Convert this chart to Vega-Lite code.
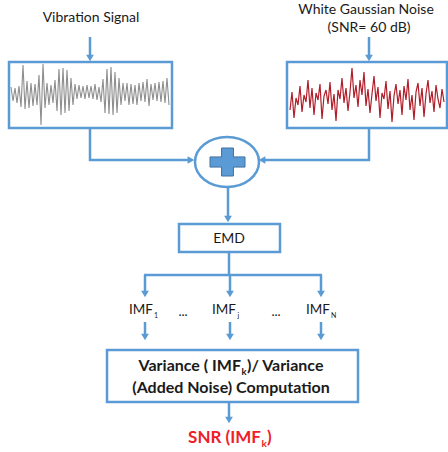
{
  "$schema": "https://vega.github.io/schema/vega-lite/v6.json",
  "width": 448,
  "height": 452,
  "padding": 0,
  "autosize": "none",
  "background": "white",
  "config": {"view": {"stroke": null}, "text": {"font": "Lato"}},
  "encoding": {
    "x": {"field": "x", "type": "quantitative", "scale": {"domain": [0, 448], "nice": false, "zero": false}, "axis": null},
    "y": {"field": "y", "type": "quantitative", "scale": {"domain": [0, 452], "nice": false, "zero": false, "reverse": true}, "axis": null}
  },
  "layer": [
    {
      "data": {"values": [
        {"x": 9, "x2": 172, "y": 62, "y2": 128},
        {"x": 287, "x2": 447, "y": 62, "y2": 128},
        {"x": 179, "x2": 280, "y": 224, "y2": 252},
        {"x": 107, "x2": 358, "y": 350, "y2": 402}
      ]},
      "mark": {"type": "rect", "fill": "white", "stroke": "#5B9BD5", "strokeWidth": 2.5},
      "encoding": {"x2": {"field": "x2"}, "y2": {"field": "y2"}}
    },
    {
      "data": {"values": [
        {"x": 11, "y": 87}, {"x": 13, "y": 101}, {"x": 15, "y": 88}, {"x": 17, "y": 103}, {"x": 19, "y": 86},
        {"x": 21, "y": 107}, {"x": 23, "y": 65}, {"x": 25, "y": 109}, {"x": 27, "y": 81}, {"x": 29, "y": 108},
        {"x": 31, "y": 83}, {"x": 33, "y": 106}, {"x": 35, "y": 84}, {"x": 37, "y": 105}, {"x": 39, "y": 75},
        {"x": 41, "y": 125}, {"x": 43, "y": 64}, {"x": 45, "y": 108}, {"x": 47, "y": 83}, {"x": 49, "y": 105},
        {"x": 51, "y": 85}, {"x": 53, "y": 103}, {"x": 55, "y": 80}, {"x": 57, "y": 111}, {"x": 59, "y": 69},
        {"x": 61, "y": 115}, {"x": 63, "y": 68}, {"x": 65, "y": 113}, {"x": 67, "y": 70}, {"x": 69, "y": 111},
        {"x": 71, "y": 78}, {"x": 73, "y": 105}, {"x": 75, "y": 84}, {"x": 77, "y": 99}, {"x": 79, "y": 85},
        {"x": 81, "y": 98}, {"x": 83, "y": 86}, {"x": 85, "y": 99}, {"x": 87, "y": 85}, {"x": 89, "y": 98},
        {"x": 91, "y": 86}, {"x": 93, "y": 99}, {"x": 95, "y": 84}, {"x": 97, "y": 100}, {"x": 99, "y": 87},
        {"x": 101, "y": 102}, {"x": 103, "y": 79}, {"x": 105, "y": 113}, {"x": 107, "y": 69}, {"x": 109, "y": 114},
        {"x": 111, "y": 67}, {"x": 113, "y": 115}, {"x": 115, "y": 72}, {"x": 117, "y": 113}, {"x": 119, "y": 78},
        {"x": 121, "y": 105}, {"x": 123, "y": 83}, {"x": 125, "y": 101}, {"x": 127, "y": 83}, {"x": 129, "y": 105},
        {"x": 131, "y": 84}, {"x": 133, "y": 104}, {"x": 135, "y": 85}, {"x": 137, "y": 105}, {"x": 139, "y": 83},
        {"x": 141, "y": 101}, {"x": 143, "y": 82}, {"x": 145, "y": 102}, {"x": 147, "y": 79}, {"x": 149, "y": 106},
        {"x": 151, "y": 84}, {"x": 153, "y": 100}, {"x": 155, "y": 83}, {"x": 157, "y": 101}, {"x": 159, "y": 82},
        {"x": 161, "y": 102}, {"x": 163, "y": 81}, {"x": 165, "y": 103}, {"x": 167, "y": 78}, {"x": 169, "y": 105}
      ]},
      "mark": {"type": "line", "color": "#7a7a7a", "strokeWidth": 1.1, "opacity": 0.85}
    },
    {
      "data": {"values": [
        {"x": 290, "y": 110}, {"x": 292, "y": 92}, {"x": 294, "y": 118}, {"x": 296, "y": 98}, {"x": 298, "y": 105},
        {"x": 300, "y": 86}, {"x": 302, "y": 112}, {"x": 304, "y": 95}, {"x": 306, "y": 102}, {"x": 308, "y": 80},
        {"x": 310, "y": 108}, {"x": 312, "y": 88}, {"x": 314, "y": 115}, {"x": 316, "y": 93}, {"x": 318, "y": 100},
        {"x": 320, "y": 84}, {"x": 322, "y": 119}, {"x": 324, "y": 96}, {"x": 326, "y": 90}, {"x": 328, "y": 104},
        {"x": 330, "y": 82}, {"x": 332, "y": 110}, {"x": 334, "y": 94}, {"x": 336, "y": 121}, {"x": 338, "y": 90},
        {"x": 340, "y": 99}, {"x": 342, "y": 78}, {"x": 344, "y": 103}, {"x": 346, "y": 88}, {"x": 348, "y": 111},
        {"x": 350, "y": 92}, {"x": 352, "y": 68}, {"x": 354, "y": 98}, {"x": 356, "y": 85}, {"x": 358, "y": 107},
        {"x": 360, "y": 80}, {"x": 362, "y": 95}, {"x": 364, "y": 72}, {"x": 366, "y": 106}, {"x": 368, "y": 89},
        {"x": 370, "y": 113}, {"x": 372, "y": 94}, {"x": 374, "y": 76}, {"x": 376, "y": 101}, {"x": 378, "y": 87},
        {"x": 380, "y": 118}, {"x": 382, "y": 93}, {"x": 384, "y": 99}, {"x": 386, "y": 81}, {"x": 388, "y": 109},
        {"x": 390, "y": 91}, {"x": 392, "y": 122}, {"x": 394, "y": 96}, {"x": 396, "y": 84}, {"x": 398, "y": 104},
        {"x": 400, "y": 90}, {"x": 402, "y": 115}, {"x": 404, "y": 86}, {"x": 406, "y": 100}, {"x": 408, "y": 79},
        {"x": 410, "y": 110}, {"x": 412, "y": 95}, {"x": 414, "y": 120}, {"x": 416, "y": 92}, {"x": 418, "y": 83},
        {"x": 420, "y": 106}, {"x": 422, "y": 88}, {"x": 424, "y": 117}, {"x": 426, "y": 94}, {"x": 428, "y": 80},
        {"x": 430, "y": 103}, {"x": 432, "y": 91}, {"x": 434, "y": 112}, {"x": 436, "y": 85}, {"x": 438, "y": 99},
        {"x": 440, "y": 108}, {"x": 442, "y": 89}, {"x": 444, "y": 102}
      ]},
      "mark": {"type": "line", "color": "#B01E2A", "strokeWidth": 1.2}
    },
    {
      "data": {"values": [
        {"x": 90, "y": 37, "x2": 90, "y2": 56},
        {"x": 369, "y": 37, "x2": 369, "y2": 56},
        {"x": 90, "y": 128, "x2": 90, "y2": 161},
        {"x": 89, "y": 160, "x2": 189, "y2": 160},
        {"x": 369, "y": 128, "x2": 369, "y2": 161},
        {"x": 370, "y": 160, "x2": 264, "y2": 160},
        {"x": 228, "y": 187, "x2": 228, "y2": 216},
        {"x": 229, "y": 252, "x2": 229, "y2": 275},
        {"x": 144, "y": 275, "x2": 322, "y2": 275},
        {"x": 145, "y": 275, "x2": 145, "y2": 291},
        {"x": 230, "y": 275, "x2": 230, "y2": 291},
        {"x": 321, "y": 275, "x2": 321, "y2": 291},
        {"x": 145, "y": 322, "x2": 145, "y2": 334},
        {"x": 230, "y": 322, "x2": 230, "y2": 334},
        {"x": 321, "y": 322, "x2": 321, "y2": 334},
        {"x": 229, "y": 402, "x2": 229, "y2": 417}
      ]},
      "mark": {"type": "rule", "color": "#5B9BD5", "strokeWidth": 2.5},
      "encoding": {"x2": {"field": "x2"}, "y2": {"field": "y2"}}
    },
    {
      "data": {"values": [
        {"x": 90, "y": 58}, {"x": 369, "y": 58}, {"x": 228, "y": 219},
        {"x": 145, "y": 294}, {"x": 230, "y": 294}, {"x": 321, "y": 294},
        {"x": 145, "y": 337}, {"x": 230, "y": 337}, {"x": 321, "y": 337},
        {"x": 229, "y": 420}
      ]},
      "mark": {"type": "point", "shape": "triangle-down", "filled": true, "color": "#5B9BD5", "size": 60, "opacity": 1}
    },
    {
      "data": {"values": [{"x": 191, "y": 160}]},
      "mark": {"type": "point", "shape": "triangle-right", "filled": true, "color": "#5B9BD5", "size": 60, "opacity": 1}
    },
    {
      "data": {"values": [{"x": 262, "y": 160}]},
      "mark": {"type": "point", "shape": "triangle-left", "filled": true, "color": "#5B9BD5", "size": 60, "opacity": 1}
    },
    {
      "data": {"values": [{"x": 227, "y": 162}]},
      "mark": {"type": "point", "shape": "M -1 0 A 1 0.78 0 1 1 1 0 A 1 0.78 0 1 1 -1 0 Z", "filled": false, "fill": "white", "fillOpacity": 1, "stroke": "#5B9BD5", "strokeWidth": 2.5, "size": 4096, "opacity": 1}
    },
    {
      "data": {"values": [{"x": 227.5, "y": 162}]},
      "mark": {"type": "point", "shape": "M -0.34 -0.8 L 0.34 -0.8 L 0.34 -0.29 L 1 -0.29 L 1 0.29 L 0.34 0.29 L 0.34 0.8 L -0.34 0.8 L -0.34 0.29 L -1 0.29 L -1 -0.29 L -0.34 -0.29 Z", "filled": true, "fill": "#5B9BD5", "stroke": "#41719C", "strokeWidth": 1, "size": 1225, "opacity": 1}
    },
    {
      "data": {"values": [
        {"x": 91, "y": 18, "t": "Vibration Signal"},
        {"x": 366, "y": 10, "t": "White Gaussian Noise"},
        {"x": 369, "y": 28, "t": "(SNR= 60 dB)"},
        {"x": 229, "y": 239, "t": "EMD"}
      ]},
      "mark": {"type": "text", "fontSize": 14, "color": "#1a1a1a", "align": "center", "baseline": "middle"},
      "encoding": {"text": {"field": "t"}}
    },
    {
      "data": {"values": [
        {"x": 153, "y": 310, "t": "IMF"},
        {"x": 236, "y": 310, "t": "IMF"},
        {"x": 330, "y": 310, "t": "IMF"}
      ]},
      "mark": {"type": "text", "fontSize": 13.5, "color": "#1a1a1a", "align": "right", "baseline": "middle"},
      "encoding": {"text": {"field": "t"}}
    },
    {
      "data": {"values": [
        {"x": 154, "y": 316, "t": "1"},
        {"x": 237.5, "y": 316, "t": "j"},
        {"x": 331, "y": 316, "t": "N"}
      ]},
      "mark": {"type": "text", "fontSize": 7, "color": "#1a1a1a", "align": "left", "baseline": "middle"},
      "encoding": {"text": {"field": "t"}}
    },
    {
      "data": {"values": [
        {"x": 183, "y": 312, "t": "..."},
        {"x": 276, "y": 312, "t": "..."}
      ]},
      "mark": {"type": "text", "fontSize": 13, "color": "#1a1a1a", "align": "center", "baseline": "middle"},
      "encoding": {"text": {"field": "t"}}
    },
    {
      "data": {"values": [{"x": 241, "y": 366, "t": "Variance ( IMF"}]},
      "mark": {"type": "text", "fontSize": 16, "fontWeight": "bold", "color": "#1a1a1a", "align": "right", "baseline": "middle"},
      "encoding": {"text": {"field": "t"}}
    },
    {
      "data": {"values": [{"x": 241.5, "y": 372, "t": "k"}]},
      "mark": {"type": "text", "fontSize": 9.5, "fontWeight": "bold", "color": "#1a1a1a", "align": "left", "baseline": "middle"},
      "encoding": {"text": {"field": "t"}}
    },
    {
      "data": {"values": [{"x": 247, "y": 366, "t": ")/ Variance"}]},
      "mark": {"type": "text", "fontSize": 16, "fontWeight": "bold", "color": "#1a1a1a", "align": "left", "baseline": "middle"},
      "encoding": {"text": {"field": "t"}}
    },
    {
      "data": {"values": [{"x": 231, "y": 388, "t": "(Added Noise) Computation"}]},
      "mark": {"type": "text", "fontSize": 16, "fontWeight": "bold", "color": "#1a1a1a", "align": "center", "baseline": "middle"},
      "encoding": {"text": {"field": "t"}}
    },
    {
      "data": {"values": [{"x": 261, "y": 438, "t": "SNR (IMF"}]},
      "mark": {"type": "text", "fontSize": 17, "fontWeight": "bold", "color": "#EE2028", "align": "right", "baseline": "middle"},
      "encoding": {"text": {"field": "t"}}
    },
    {
      "data": {"values": [{"x": 261.5, "y": 444, "t": "k"}]},
      "mark": {"type": "text", "fontSize": 10, "fontWeight": "bold", "color": "#EE2028", "align": "left", "baseline": "middle"},
      "encoding": {"text": {"field": "t"}}
    },
    {
      "data": {"values": [{"x": 267, "y": 438, "t": ")"}]},
      "mark": {"type": "text", "fontSize": 17, "fontWeight": "bold", "color": "#EE2028", "align": "left", "baseline": "middle"},
      "encoding": {"text": {"field": "t"}}
    }
  ]
}
